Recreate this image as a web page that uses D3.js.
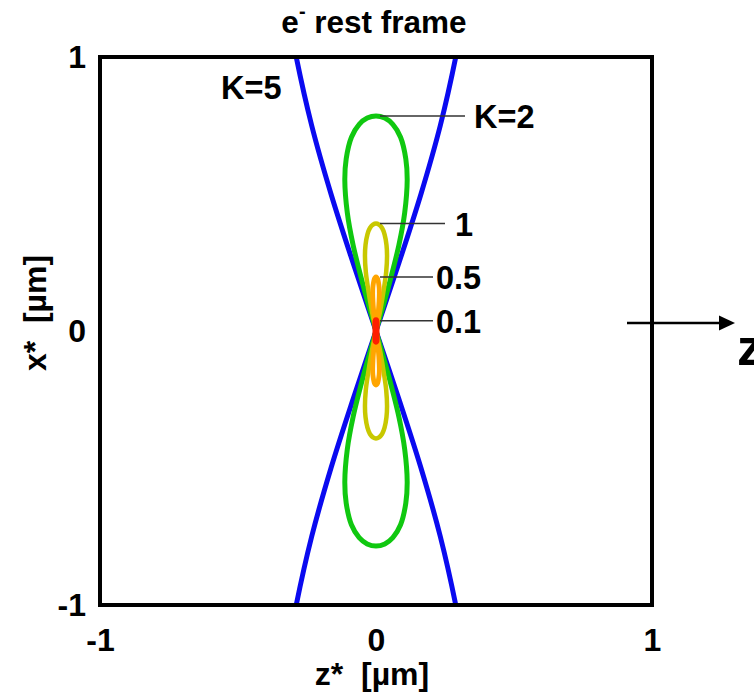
<!DOCTYPE html>
<html>
<head>
<meta charset="utf-8">
<script src="https://cdn.jsdelivr.net/npm/d3@7"></script>
<style>
  html, body { margin: 0; padding: 0; background: #fff; }
  svg { display: block; }
  text { font-family: "Liberation Sans", Arial, Helvetica, sans-serif; font-weight: bold; fill: #000; white-space: pre; }
</style>
</head>
<body>
<svg id="chart" width="754" height="695"></svg>
<script>
// Electron figure-eight trajectories in the average rest frame, [z*, x*] in µm.
const kValues = [5, 2, 1, 0.5, 0.1];
const kLabels = ["K=5", "K=2", "1", "0.5", "0.1"];
const kColors = ["#0a0af0", "#10c810", "#c8c800", "#ffa500", "#ff1e00"];

// K = 5: only the two crossing arms fall inside the window
const armK5a = [[-0.298, -1.05], [-0.289, -1], [-0.233, -0.75], [-0.163, -0.5], [-0.0835, -0.25], [0, 0],
                [0.0835, 0.25], [0.163, 0.5], [0.233, 0.75], [0.289, 1], [0.298, 1.05]];
const armK5b = [[0.298, -1.05], [0.289, -1], [0.233, -0.75], [0.163, -0.5], [0.0835, -0.25], [0, 0],
                [-0.0835, 0.25], [-0.163, 0.5], [-0.233, 0.75], [-0.289, 1], [-0.298, 1.05]];

const loopK2 = [
  [0, 0], [0.044, 0.157], [0.083, 0.314], [0.104, 0.432], [0.113, 0.55], [0.108, 0.628], [0.089, 0.707], [0.061, 0.754], [0.032, 0.777], [0, 0.785],
  [-0.032, 0.777], [-0.061, 0.754], [-0.089, 0.707], [-0.108, 0.628], [-0.113, 0.55], [-0.104, 0.432], [-0.083, 0.314], [-0.044, 0.157],
  [0, 0], [0.044, -0.157], [0.083, -0.314], [0.104, -0.432], [0.113, -0.55], [0.108, -0.628], [0.089, -0.707], [0.061, -0.754], [0.032, -0.777], [0, -0.785],
  [-0.032, -0.777], [-0.061, -0.754], [-0.089, -0.707], [-0.108, -0.628], [-0.113, -0.55], [-0.104, -0.432], [-0.083, -0.314], [-0.044, -0.157]
];

const loopK1 = [
  [0, 0], [0.016, 0.078], [0.029, 0.157], [0.037, 0.216], [0.040, 0.274], [0.038, 0.314], [0.031, 0.353], [0.022, 0.376], [0.011, 0.388], [0, 0.392],
  [-0.011, 0.388], [-0.022, 0.376], [-0.031, 0.353], [-0.038, 0.314], [-0.040, 0.274], [-0.037, 0.216], [-0.029, 0.157], [-0.016, 0.078],
  [0, 0], [0.016, -0.078], [0.029, -0.157], [0.037, -0.216], [0.040, -0.274], [0.038, -0.314], [0.031, -0.353], [0.022, -0.376], [0.011, -0.388], [0, -0.392],
  [-0.011, -0.388], [-0.022, -0.376], [-0.031, -0.353], [-0.038, -0.314], [-0.040, -0.274], [-0.037, -0.216], [-0.029, -0.157], [-0.016, -0.078]
];

const loopK05 = [
  [0, 0], [0.005, 0.039], [0.009, 0.079], [0.011, 0.108], [0.012, 0.138], [0.0115, 0.158], [0.009, 0.177], [0.0065, 0.189], [0.0033, 0.195], [0, 0.197],
  [-0.0033, 0.195], [-0.0065, 0.189], [-0.009, 0.177], [-0.0115, 0.158], [-0.012, 0.138], [-0.011, 0.108], [-0.009, 0.079], [-0.005, 0.039],
  [0, 0], [0.005, -0.039], [0.009, -0.079], [0.011, -0.108], [0.012, -0.138], [0.0115, -0.158], [0.009, -0.177], [0.0065, -0.189], [0.0033, -0.195], [0, -0.197],
  [-0.0033, -0.195], [-0.0065, -0.189], [-0.009, -0.177], [-0.0115, -0.158], [-0.012, -0.138], [-0.011, -0.108], [-0.009, -0.079], [-0.005, -0.039]
];

const loopK01 = [
  [0, 0], [0.0005, 0.02], [0, 0.037], [-0.0005, 0.02],
  [0, 0], [0.0005, -0.02], [0, -0.037], [-0.0005, -0.02]
];

const tickValues = [-1, 0, 1];

const svg = d3.select("#chart");
const plotLeft = 100, plotRight = 652, plotTop = 57, plotBottom = 605;

const zScale = d3.scaleLinear().domain([-1, 1]).range([plotLeft, plotRight]);
const xScale = d3.scaleLinear().domain([-1, 1]).range([plotBottom, plotTop]);

svg.append("defs").append("clipPath").attr("id", "plotClip")
  .append("rect").attr("x", plotLeft).attr("y", plotTop)
  .attr("width", plotRight - plotLeft).attr("height", plotBottom - plotTop);

const plot = svg.append("g").attr("clip-path", "url(#plotClip)");

const openLine = d3.line().x(d => zScale(d[0])).y(d => xScale(d[1])).curve(d3.curveCatmullRom.alpha(0.5));
const closedLine = d3.line().x(d => zScale(d[0])).y(d => xScale(d[1])).curve(d3.curveCatmullRomClosed.alpha(0.5));

// K = 5 arms
[armK5a, armK5b].forEach(arm => {
  plot.append("path").attr("d", openLine(arm))
    .attr("fill", "none").attr("stroke", kColors[0]).attr("stroke-width", 5);
});

// closed figure-eights
const loops = [
  { pts: loopK2, color: kColors[1], w: 5 },
  { pts: loopK1, color: kColors[2], w: 4.5 },
  { pts: loopK05, color: kColors[3], w: 4.8 },
  { pts: loopK01, color: kColors[4], w: 7 }
];
loops.forEach(l => {
  plot.append("path").attr("d", closedLine(l.pts))
    .attr("fill", "none").attr("stroke", l.color).attr("stroke-width", l.w)
    .attr("stroke-linejoin", "round").attr("stroke-linecap", "round");
});

// frame
svg.append("rect").attr("x", plotLeft).attr("y", plotTop)
  .attr("width", plotRight - plotLeft).attr("height", plotBottom - plotTop)
  .attr("fill", "none").attr("stroke", "#000").attr("stroke-width", 4);

// axes
const fmt = d => String(d);
const yAxis = svg.append("g").attr("transform", `translate(${plotLeft},0)`)
  .call(d3.axisLeft(xScale).tickValues(tickValues).tickFormat(fmt).tickSize(0).tickPadding(14));
const xAxis = svg.append("g").attr("transform", `translate(0,${plotBottom})`)
  .call(d3.axisBottom(zScale).tickValues(tickValues).tickFormat(fmt).tickSize(0).tickPadding(23));
[xAxis, yAxis].forEach(a => {
  a.select(".domain").remove();
  a.selectAll("text").style("font-family", '"Liberation Sans", Arial, sans-serif')
    .style("font-weight", "bold").style("font-size", "32px").attr("fill", "#000");
});

// axis titles
svg.append("text").attr("x", 372).attr("y", 685).attr("text-anchor", "middle")
  .style("font-size", "32px").text("z*  [µm]");
svg.append("text").attr("transform", "translate(46,313) rotate(-90)").attr("text-anchor", "middle")
  .style("font-size", "32px").text("x*  [µm]");

// title
const title = svg.append("text").attr("x", 374).attr("y", 33).attr("text-anchor", "middle").style("font-size", "31.5px");
title.append("tspan").text("e");
title.append("tspan").attr("dy", -15).style("font-size", "20px").text("-");
title.append("tspan").attr("dy", 15).text(" rest frame");

// curve labels with leader lines from each loop's apex
const lobeTops = [null, loopK2[9][1], loopK1[9][1], loopK05[9][1], loopK01[2][1]];
const leaderEnd = [null, 465, 445, 433, 433];
const labelX = [null, 474, 455, 436, 436];
for (let i = 1; i < kValues.length; i++) {
  const ly = xScale(lobeTops[i]);
  svg.append("line").attr("x1", zScale(0) + 4).attr("x2", leaderEnd[i])
    .attr("y1", ly).attr("y2", ly).attr("stroke", "#333").attr("stroke-width", 1.5);
  svg.append("text").attr("x", labelX[i]).attr("y", ly + 12).style("font-size", "32.5px").text(kLabels[i]);
}
svg.append("text").attr("x", 221).attr("y", 99).style("font-size", "32.5px").text(kLabels[0]);

// laser propagation direction
svg.append("line").attr("x1", 627).attr("x2", 721).attr("y1", 323).attr("y2", 323)
  .attr("stroke", "#000").attr("stroke-width", 2.5);
svg.append("path").attr("d", "M719,315.5 L735,323 L719,330.5 Z").attr("fill", "#000");
svg.append("text").attr("x", 737).attr("y", 365).style("font-size", "52px").text("z");
</script>
</body>
</html>
